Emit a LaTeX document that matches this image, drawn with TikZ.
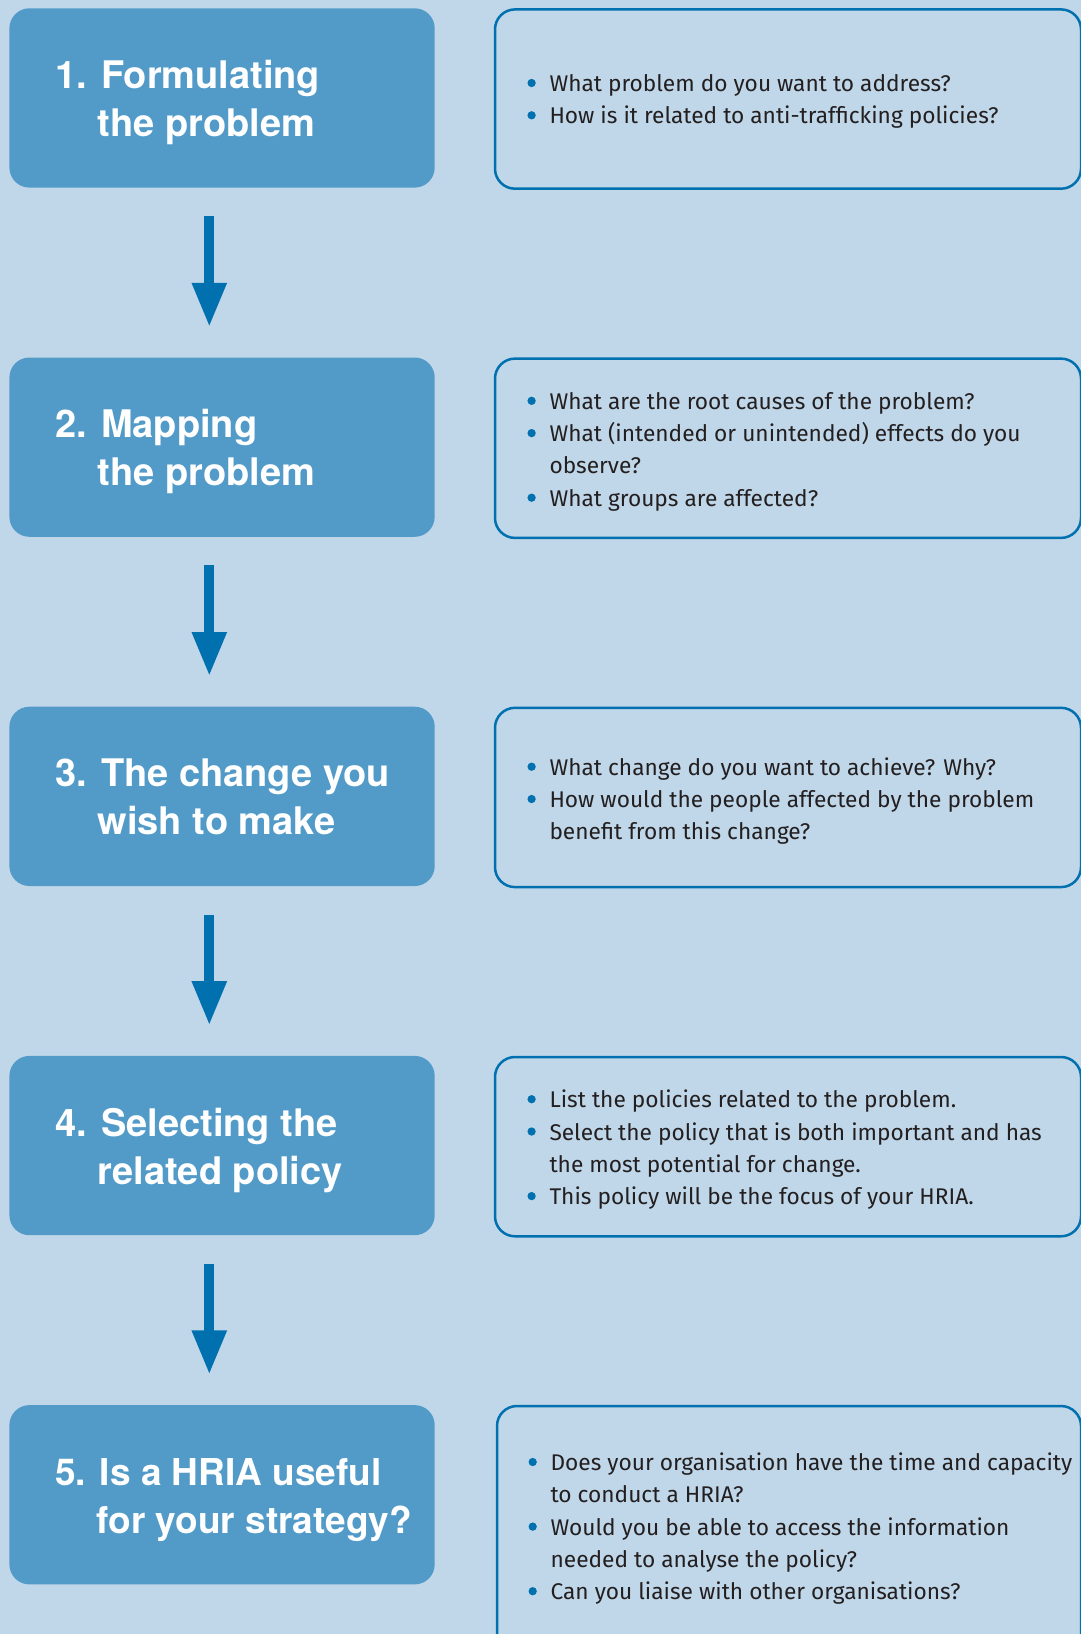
\documentclass[tikz,border=0pt]{standalone}
\usepackage{fontspec}
\setmainfont{Fira Sans}
\newfontfamily\headfont{TeX Gyre Heros}
\usetikzlibrary{arrows.meta}
\definecolor{bg}{HTML}{C0D7E9}
\definecolor{boxfill}{HTML}{529BC8}
\definecolor{dblue}{HTML}{0070AF}
\definecolor{txt}{HTML}{231F20}
\begin{document}
\begin{tikzpicture}[x=1pt,y=-1pt,
  stepbox/.style={rounded corners=20pt, fill=boxfill, minimum width=425.3pt, minimum height=179.3pt, inner sep=0pt},
  qbox/.style={rounded corners=20pt, draw=dblue, line width=2.5pt, inner sep=0pt},
  head/.style={anchor=base west, inner sep=0pt, text=white, font=\headfont\bfseries\fontsize{38}{46}\selectfont},
  headsmall/.style={head, font=\headfont\bfseries\fontsize{37}{46}\selectfont},
  qline/.style={anchor=base west, inner sep=0pt, text=txt, font=\fontsize{22.7}{32}\selectfont},
  bul/.style={circle, fill=dblue, inner sep=0pt, minimum size=8.3pt},
  flow/.style={draw=dblue, line width=10pt, -{Triangle[length=44.3pt,width=32.4pt]}, shorten <=28.4pt, shorten >=30.2pt}
]
\useasboundingbox (0,0) rectangle (1081,1634);
\fill[bg] (0,0) rectangle (1081,1634);

% left step boxes
\node[stepbox] (b1) at (222.05,97.95) {};
\node[stepbox] (b2) at (222.05,447.15) {};
\node[stepbox] (b3) at (222.05,796.35) {};
\node[stepbox] (b4) at (222.05,1145.55) {};
\node[stepbox] (b5) at (222.05,1494.75) {};

% headings
\node[head] (h1a) at (55.2,88.5) {1. Formulating};
\node[head] (h1b) at (55.2,136.4) {\phantom{1.\ }the problem};
\node[head] (h2a) at (55.2,437.7) {2. Mapping};
\node[head] (h2b) at (55.2,485.6) {\phantom{2.\ }the problem};
\node[head] (h3a) at (55.2,786.9) {3. The change you};
\node[head] (h3b) at (55.2,834.8) {\phantom{3.\ }wish to make};
\node[head] (h4a) at (55.2,1136.1) {4. Selecting the};
\node[head] (h4b) at (55.2,1184.0) {\phantom{4.\ }related policy};
\node[headsmall] (h5a) at (55.2,1485.3) {5. Is a HRIA useful};
\node[headsmall] (h5b) at (55.2,1533.2) {\phantom{5.\ }for your strategy?};

% arrows
\draw[flow] ([xshift=-12.75pt]b1.south) -- ([xshift=-12.75pt]b2.north);
\draw[flow] ([xshift=-12.75pt]b2.south) -- ([xshift=-12.75pt]b3.north);
\draw[flow] ([xshift=-12.75pt]b3.south) -- ([xshift=-12.75pt]b4.north);
\draw[flow] ([xshift=-12.75pt]b4.south) -- ([xshift=-12.75pt]b5.north);

% question boxes
\node[qbox, minimum width=586pt, minimum height=179.3pt] (q1) at (788,99.05) {};
\node[qbox, minimum width=586pt, minimum height=179.3pt] (q2) at (788,448.25) {};
\node[qbox, minimum width=586pt, minimum height=179.3pt] (q3) at (788,797.45) {};
\node[qbox, minimum width=586pt, minimum height=179.3pt] (q4) at (788,1146.65) {};
\node[qbox, minimum width=584pt, minimum height=260pt] (q5) at (789,1536) {};

% box 1 text
\node[bul] (d1a) at (531.6,83.0) {};
\node[qline] (l1a) at (549.3,91.5) {What problem do you want to address?};
\node[bul] (d1b) at (531.6,115.3) {};
\node[qline] (l1b) at (549.3,123.8) {How is it related to anti-trafficking policies?};

% box 2 text
\node[bul] (d2a) at (531.6,400.8) {};
\node[qline] (l2a) at (549.3,409.3) {What are the root causes of the problem?};
\node[bul] (d2b) at (531.6,433.1) {};
\node[qline] (l2b) at (549.3,441.6) {What (intended or unintended) effects do you};
\node[qline] (l2c) at (549.3,473.9) {observe?};
\node[bul] (d2d) at (531.6,497.7) {};
\node[qline] (l2d) at (549.3,506.2) {What groups are affected?};

% box 3 text
\node[bul] (d3a) at (531.6,766.7) {};
\node[qline] (l3a) at (549.3,775.2) {What change do you want to achieve? Why?};
\node[bul] (d3b) at (531.6,799.0) {};
\node[qline] (l3b) at (549.3,807.5) {How would the people affected by the problem};
\node[qline] (l3c) at (549.3,839.8) {benefit from this change?};

% box 4 text
\node[bul] (d4a) at (531.6,1099.2) {};
\node[qline] (l4a) at (549.3,1107.7) {List the policies related to the problem.};
\node[bul] (d4b) at (531.6,1131.5) {};
\node[qline] (l4b) at (549.3,1140.0) {Select the policy that is both important and has};
\node[qline] (l4c) at (549.3,1172.3) {the most potential for change.};
\node[bul] (d4d) at (531.6,1196.1) {};
\node[qline] (l4d) at (549.3,1204.6) {This policy will be the focus of your HRIA.};

% box 5 text
\node[bul] (d5a) at (532.7,1462.0) {};
\node[qline] (l5a) at (550.4,1470.5) {Does your organisation have the time and capacity};
\node[qline] (l5b) at (550.4,1502.8) {to conduct a HRIA?};
\node[bul] (d5c) at (532.7,1526.6) {};
\node[qline] (l5c) at (550.4,1535.1) {Would you be able to access the information};
\node[qline] (l5d) at (550.4,1567.4) {needed to analyse the policy?};
\node[bul] (d5e) at (532.7,1591.2) {};
\node[qline] (l5e) at (550.4,1599.7) {Can you liaise with other organisations?};
\end{tikzpicture}
\end{document}
